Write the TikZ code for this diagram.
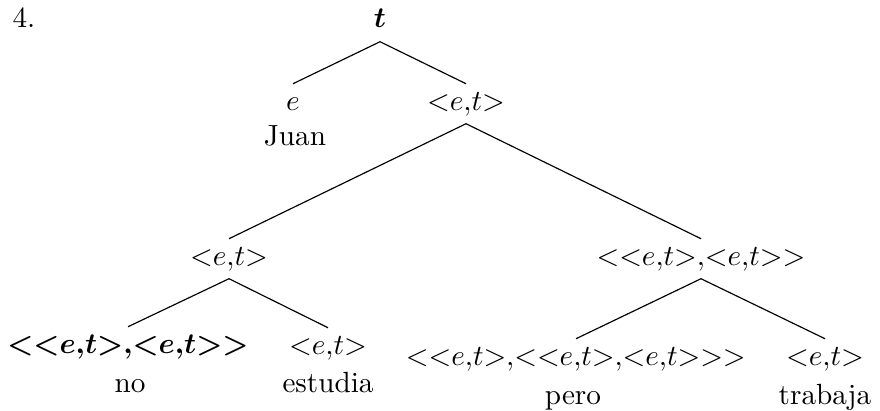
\documentclass[tikz,border=0pt]{standalone}
\usepackage{amsmath}
\newcommand{\etype}{{<}e{,}t{>}}
\tikzset{every picture/.style={line width=0.4pt}}
\tikzset{
	typ/.style={anchor=base, inner sep=2.5pt, text height=6.3pt, text depth=2pt},
	word/.style={anchor=base, inner sep=0pt}}

\begin{document}
\begin{tikzpicture}[x=0.3425pt,y=0.3425pt,yscale=-1,xscale=1]
	\useasboundingbox (0,0) rectangle (880,410); %set diagram to 880 x 410

	% Text Node
	\node [anchor=base west, inner sep=0pt] (num) at (12,28) {4.};
	% Text Node
	\node [typ] (root) at (380,28) {$\boldsymbol{t}$};
	% Text Node
	\node [typ] (juan) at (293,110) {$e$};
	\node [word] (wjuan) at (295,145) {Juan};
	% Text Node
	\node [typ] (vp) at (466,110) {$\etype$};
	% Text Node
	\node [typ] (neg) at (229,265) {$\etype$};
	% Text Node
	\node [typ] (conj) at (701,265) {${<}\etype{,}\etype{>}$};
	% Text Node
	\node [typ] (negop) at (128,353) {$\boldsymbol{{<}\etype{,}\etype{>}}$};
	\node [word] (wnegop) at (130,392) {no};
	% Text Node
	\node [typ] (estudia) at (328,354) {$\etype$};
	\node [word] (westudia) at (328,392) {estudia};
	% Text Node
	\node [typ] (pero) at (576,365) {${<}\etype{,}{<}\etype{,}\etype{>}{>}$};
	\node [word] (wpero) at (573,404) {pero};
	% Text Node
	\node [typ] (trabaja) at (825,365) {$\etype$};
	\node [word] (wtrabaja) at (825,404) {trabaja};

	%Straight Lines
	\draw (root.south) -- (juan.north);
	\draw (root.south) -- (vp.north);
	%Straight Lines
	\draw (vp.south) -- (neg.north);
	\draw (vp.south) -- (conj.north);
	%Straight Lines
	\draw (neg.south) -- (negop.north);
	\draw (neg.south) -- (estudia.north);
	%Straight Lines
	\draw (conj.south) -- (pero.north);
	\draw (conj.south) -- (trabaja.north);

\end{tikzpicture}
\end{document}
